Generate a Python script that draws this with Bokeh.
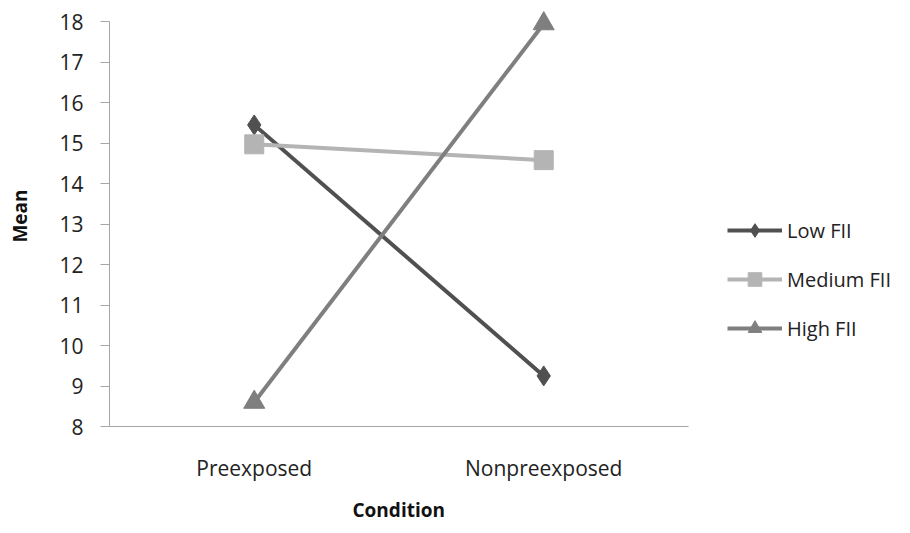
from bokeh.plotting import figure
from bokeh.models import ColumnDataSource, Range1d, Legend, LegendItem, FixedTicker, Title
from bokeh.embed import file_html
from bokeh.resources import INLINE

conditions = ["Preexposed", "Nonpreexposed"]
low_fii = [15.45, 9.25]
medium_fii = [14.97, 14.58]
high_fii = [8.6, 17.95]
series_names = ["Low FII", "Medium FII", "High FII"]
y_ticks = [8, 9, 10, 11, 12, 13, 14, 15, 16, 17, 18]
x_title_text = "Condition"
y_title_text = "Mean"

FONT = "Open Sans"

xpos = [i + 0.5 for i in range(len(conditions))]

p = figure(width=910, height=533, x_range=Range1d(0, 2.767),
           y_range=Range1d(8, 18.4), output_backend="svg", toolbar_location=None,
           min_border_left=109, min_border_right=0, min_border_top=5, min_border_bottom=105)
p.outline_line_color = None
p.xgrid.visible = False
p.ygrid.visible = False
p.background_fill_color = "white"
p.border_fill_color = "white"

src = ColumnDataSource(dict(x=xpos, low=low_fii, med=medium_fii, high=high_fii))

r_low_l = p.line("x", "low", source=src, line_color="#505050", line_width=4)
r_low_m = p.scatter("x", "low", source=src, marker="diamond", size=20, color="#505050")
r_med_l = p.line("x", "med", source=src, line_color="#b4b4b4", line_width=4)
r_med_m = p.scatter("x", "med", source=src, marker="square", size=19, color="#b4b4b4")
r_high_l = p.line("x", "high", source=src, line_color="#7f7f7f", line_width=4)
r_high_m = p.scatter("x", "high", source=src, marker="triangle", size=21, color="#7f7f7f")

# axes
p.yaxis.ticker = FixedTicker(ticks=y_ticks)
p.yaxis.bounds = (8, 18)
p.yaxis.axis_line_color = "#a6a6a6"
p.yaxis.major_tick_line_color = "#a6a6a6"
p.yaxis.major_tick_out = 9
p.yaxis.major_tick_in = 0
p.yaxis.minor_tick_line_color = None
p.yaxis.major_label_text_font = FONT
p.yaxis.major_label_text_font_size = "21px"
p.yaxis.major_label_text_color = "#222222"
p.yaxis.major_label_standoff = 17
p.yaxis.axis_label = y_title_text
p.yaxis.axis_label_text_font = FONT
p.yaxis.axis_label_text_font_style = "bold"
p.yaxis.axis_label_text_font_size = "19px"
p.yaxis.axis_label_text_color = "#111111"
p.yaxis.axis_label_standoff = 23

p.xaxis.ticker = FixedTicker(ticks=xpos)
p.xaxis.major_label_overrides = {x: c for x, c in zip(xpos, conditions)}
p.xaxis.bounds = (0, len(conditions))
p.xaxis.axis_line_color = "#a6a6a6"
p.xaxis.major_tick_line_color = None
p.xaxis.major_tick_out = 0
p.xaxis.minor_tick_line_color = None
p.xaxis.major_label_text_font = FONT
p.xaxis.major_label_text_font_size = "21px"
p.xaxis.major_label_text_color = "#222222"
p.xaxis.major_label_standoff = 27

x_title = Title(text=x_title_text, align="left", offset=243,
                text_font=FONT, text_font_style="bold", text_font_size="19px",
                text_color="#111111", standoff=21)
p.add_layout(x_title, "below")

legend = Legend(items=[
    LegendItem(label=series_names[0], renderers=[r_low_l, r_low_m]),
    LegendItem(label=series_names[1], renderers=[r_med_l, r_med_m]),
    LegendItem(label=series_names[2], renderers=[r_high_l, r_high_m]),
], location=(618, 81))
legend.border_line_color = None
legend.background_fill_alpha = 0
legend.label_text_font = FONT
legend.label_text_font_size = "20px"
legend.label_text_color = "#222222"
legend.glyph_width = 55
legend.glyph_height = 34
legend.label_height = 20
legend.spacing = 15
legend.label_standoff = 5
legend.padding = 0
legend.margin = 0
p.add_layout(legend)

open("out.html", "w").write(file_html(p, INLINE))
